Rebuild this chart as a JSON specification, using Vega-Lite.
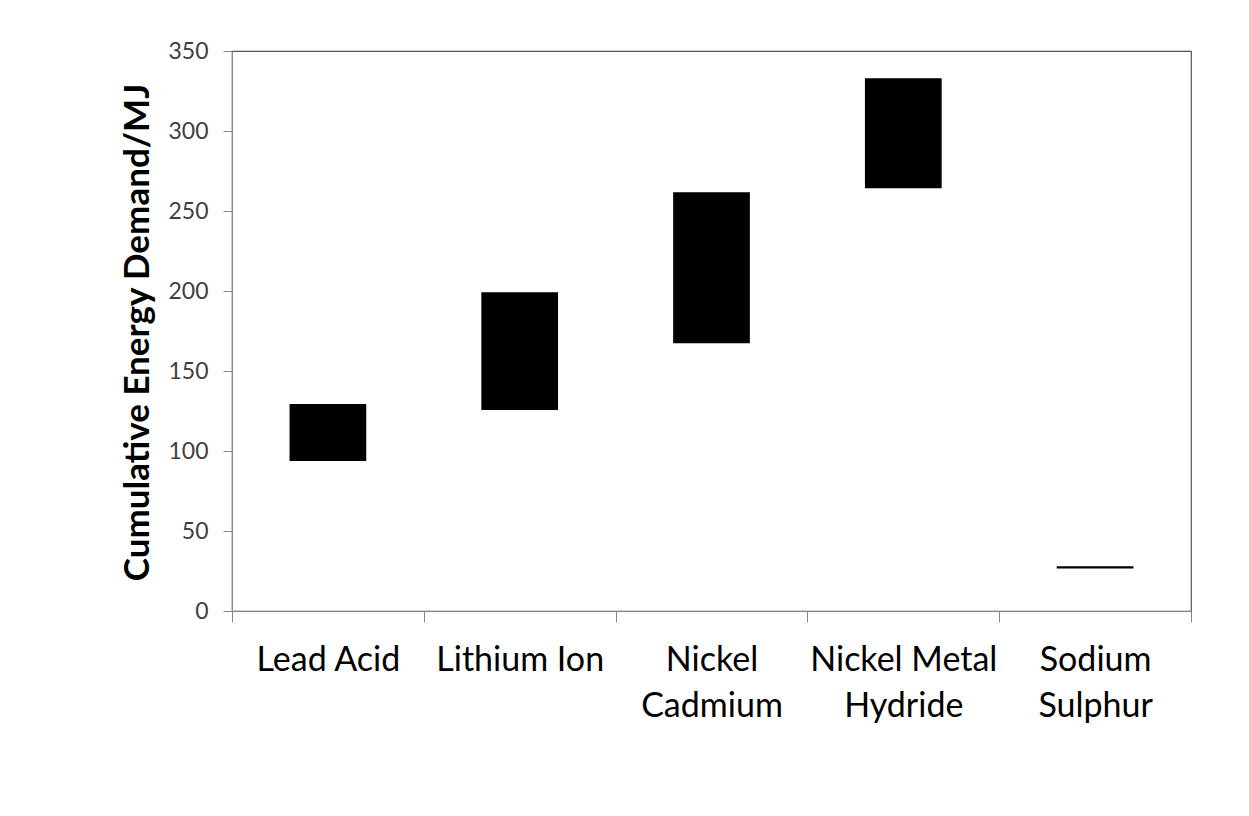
{
  "$schema": "https://vega.github.io/schema/vega-lite/v6.json",
  "autosize": {"type": "none"},
  "padding": {"left": 232, "top": 51, "right": 58, "bottom": 205},
  "width": 959,
  "height": 560,
  "background": "white",
  "config": {
    "view": {"stroke": "#555555", "strokeWidth": 1.2},
    "font": "Lato"
  },
  "data": {
    "values": [
      {"battery": "Lead Acid", "low": 93.7, "high": 129.3},
      {"battery": "Lithium Ion", "low": 125.6, "high": 199.2},
      {"battery": "Nickel Cadmium", "low": 167.3, "high": 261.7},
      {"battery": "Nickel Metal Hydride", "low": 264.2, "high": 332.9},
      {"battery": "Sodium Sulphur", "low": 26.6, "high": 27.9}
    ]
  },
  "mark": {"type": "bar", "color": "black", "width": {"band": 0.4}},
  "encoding": {
    "x": {
      "field": "battery",
      "type": "nominal",
      "sort": null,
      "scale": {"paddingInner": 0, "paddingOuter": 0},
      "axis": {
        "title": null,
        "labelAngle": 0,
        "tickBand": "extent",
        "domainColor": "#868686",
        "tickColor": "#868686",
        "tickSize": 11,
        "labelFont": "Lato",
        "labelFontSize": 34,
        "labelColor": "#000000",
        "labelPadding": 21,
        "labelLineHeight": 46,
        "labelLimit": 0,
        "labelExpr": "datum.value == 'Nickel Cadmium' ? ['Nickel', 'Cadmium'] : datum.value == 'Nickel Metal Hydride' ? ['Nickel Metal', 'Hydride'] : datum.value == 'Sodium Sulphur' ? ['Sodium', 'Sulphur'] : datum.label"
      }
    },
    "y": {
      "field": "low",
      "type": "quantitative",
      "scale": {"domain": [0, 350], "nice": false},
      "axis": {
        "values": [0, 50, 100, 150, 200, 250, 300, 350],
        "grid": false,
        "domainColor": "#868686",
        "tickColor": "#868686",
        "tickSize": 9,
        "labelFont": "Lato",
        "labelFontSize": 23,
        "labelColor": "#404040",
        "labelPadding": 15,
        "title": "Cumulative Energy Demand/MJ",
        "titleFont": "Lato",
        "titleFontSize": 35,
        "titleFontWeight": "bold",
        "titleColor": "#000000",
        "titleAngle": -90,
        "titleAlign": "center",
        "titleBaseline": "alphabetic",
        "titleX": -84,
        "titleY": 281
      }
    },
    "y2": {"field": "high"}
  }
}
